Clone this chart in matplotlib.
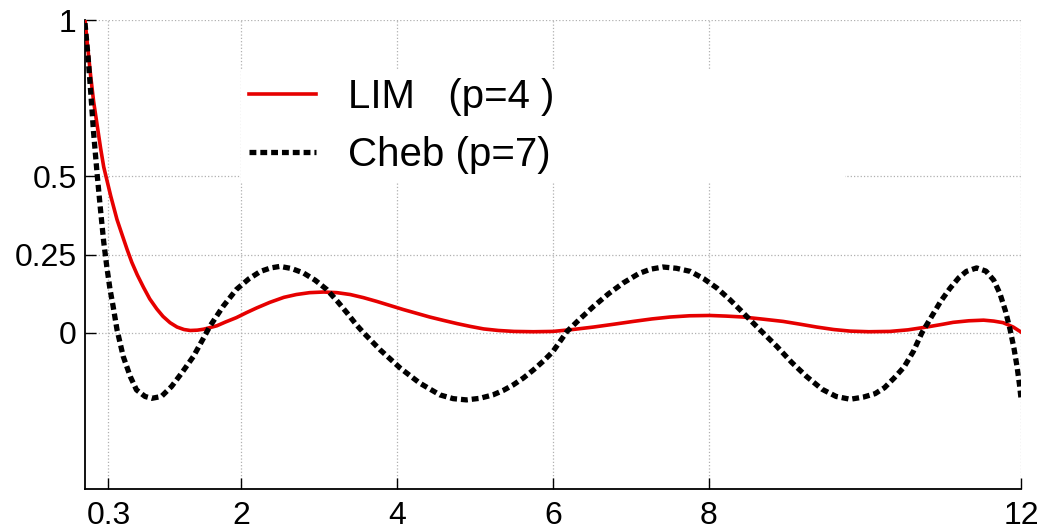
import matplotlib
matplotlib.use("Agg")
import matplotlib.pyplot as plt

# values
lim_x = [0.0, 0.04, 0.073, 0.11, 0.158, 0.20, 0.24, 0.33, 0.41, 0.48, 0.54, 0.60,
         0.67, 0.75, 0.83, 0.92, 1.0, 1.09, 1.18, 1.27, 1.35, 1.44, 1.52, 1.60,
         1.69, 1.80, 1.94, 2.07, 2.2, 2.37, 2.55, 2.71, 2.88, 3.06, 3.23, 3.40,
         3.57, 3.74, 3.91, 4.08, 4.25, 4.42, 4.60, 4.77, 4.94, 5.11, 5.30, 5.50,
         5.75, 6.0, 6.25, 6.52, 6.78, 7.03, 7.27, 7.5, 7.75, 8.01, 8.22, 8.44,
         8.70, 8.95, 9.17, 9.38, 9.60, 9.81, 10.05, 10.32, 10.55, 10.79, 11.0, 11.13,
         11.33, 11.52, 11.65, 11.77, 11.9, 12.0]
lim_y = [1.0, 0.90, 0.82, 0.74, 0.66, 0.59, 0.53, 0.437, 0.362, 0.31, 0.266, 0.225,
         0.185, 0.145, 0.108, 0.076, 0.052, 0.032, 0.018, 0.010, 0.007, 0.008, 0.011, 0.016,
         0.022, 0.034, 0.048, 0.064, 0.079, 0.097, 0.113, 0.122, 0.128, 0.130, 0.128, 0.122,
         0.112, 0.100, 0.087, 0.074, 0.062, 0.050, 0.039, 0.029, 0.020, 0.012, 0.007, 0.004,
         0.003, 0.004, 0.010, 0.018, 0.027, 0.036, 0.044, 0.050, 0.054, 0.055, 0.053, 0.050,
         0.043, 0.036, 0.027, 0.018, 0.010, 0.005, 0.003, 0.004, 0.009, 0.018, 0.027, 0.033,
         0.038, 0.040, 0.037, 0.032, 0.018, 0.002]

cheb_x = [0.0, 0.04, 0.073, 0.11, 0.158, 0.20, 0.24, 0.28, 0.32, 0.36, 0.41, 0.49,
          0.58, 0.66, 0.77, 0.855, 0.98, 1.11, 1.24, 1.39, 1.52, 1.60, 1.77, 1.94,
          2.1, 2.25, 2.38, 2.5, 2.65, 2.80, 2.95, 3.10, 3.23, 3.36, 3.48, 3.57,
          3.78, 4.04, 4.29, 4.55, 4.72, 4.89, 5.06, 5.23, 5.36, 5.49, 5.62, 5.75,
          5.88, 6.0, 6.18, 6.35, 6.52, 6.71, 6.90, 7.1, 7.25, 7.41, 7.58, 7.76,
          7.93, 8.10, 8.27, 8.44, 8.55, 8.65, 8.87, 9.06, 9.25, 9.45, 9.63, 9.81,
          9.98, 10.13, 10.25, 10.37, 10.5, 10.62, 10.73, 10.85, 10.97, 11.09, 11.2,
          11.3, 11.43, 11.55, 11.65, 11.73, 11.8, 11.86, 11.91, 11.95, 11.98, 12.0]
cheb_y = [0.99, 0.88, 0.77, 0.64, 0.50, 0.39, 0.29, 0.21, 0.14, 0.085, 0.01, -0.076,
          -0.14, -0.183, -0.204, -0.21, -0.204, -0.172, -0.129, -0.076, -0.017, 0.02, 0.084, 0.138,
          0.172, 0.196, 0.207, 0.212, 0.205, 0.191, 0.168, 0.138, 0.102, 0.063, 0.025, 0.0,
          -0.054, -0.113, -0.161, -0.199, -0.211, -0.215, -0.210, -0.199, -0.185, -0.167, -0.145, -0.119,
          -0.090, -0.06, 0.004, 0.045, 0.084, 0.124, 0.159, 0.189, 0.203, 0.21, 0.206, 0.196,
          0.173, 0.143, 0.105, 0.063, 0.035, 0.01, -0.044, -0.095, -0.14, -0.181, -0.204, -0.213,
          -0.206, -0.195, -0.176, -0.146, -0.11, -0.06, 0.0, 0.05, 0.10, 0.142, 0.175,
          0.196, 0.207, 0.197, 0.168, 0.125, 0.07, 0.01, -0.05, -0.11, -0.165, -0.21]

x_ticks = [0.3, 2, 4, 6, 8, 12]
x_labels = ["0.3", "2", "4", "6", "8", "12"]
y_ticks = [0, 0.25, 0.5, 1]
y_labels = ["0", "0.25", "0.5", "1"]

plt.rcParams['font.family'] = ['Liberation Sans', 'DejaVu Sans']

fig = plt.figure(figsize=(10.52, 5.32), dpi=100)
ax = fig.add_axes([85 / 1052, 1 - 489 / 532, 936 / 1052, 469 / 532])

ax.plot(lim_x, lim_y, color='#e60000', lw=2.6, label='LIM   (p=4 )', zorder=3)
ax.plot(cheb_x, cheb_y, color='black', lw=3.8, linestyle=(0, (1.3, 0.75)),
        label='Cheb (p=7)', zorder=3)

ax.set_xlim(0, 12)
ax.set_ylim(-0.5, 1)
ax.set_xticks(x_ticks)
ax.set_xticklabels(x_labels)
ax.set_yticks(y_ticks)
ax.set_yticklabels(y_labels)
ax.tick_params(direction='in', length=8, width=1, labelsize=23, pad=6)
ax.tick_params(axis='x', pad=9)
ax.grid(True, linestyle=':', color='#b0b0b0', lw=0.9)

for side in ['top', 'right']:
    ax.spines[side].set_visible(False)
for side in ['left', 'bottom']:
    ax.spines[side].set_linewidth(1.3)

leg = ax.legend(loc='upper left', bbox_to_anchor=(0.167, 0.638, 0.645, 0.255),
                mode='expand', fontsize=29, frameon=True, fancybox=False,
                handlelength=1.65, handletextpad=0.8, labelspacing=0.5,
                borderaxespad=0, borderpad=0.2)
leg.get_frame().set_edgecolor('none')
leg.get_frame().set_facecolor('white')
leg.get_frame().set_alpha(1)

fig.savefig("out.png", dpi=100)
